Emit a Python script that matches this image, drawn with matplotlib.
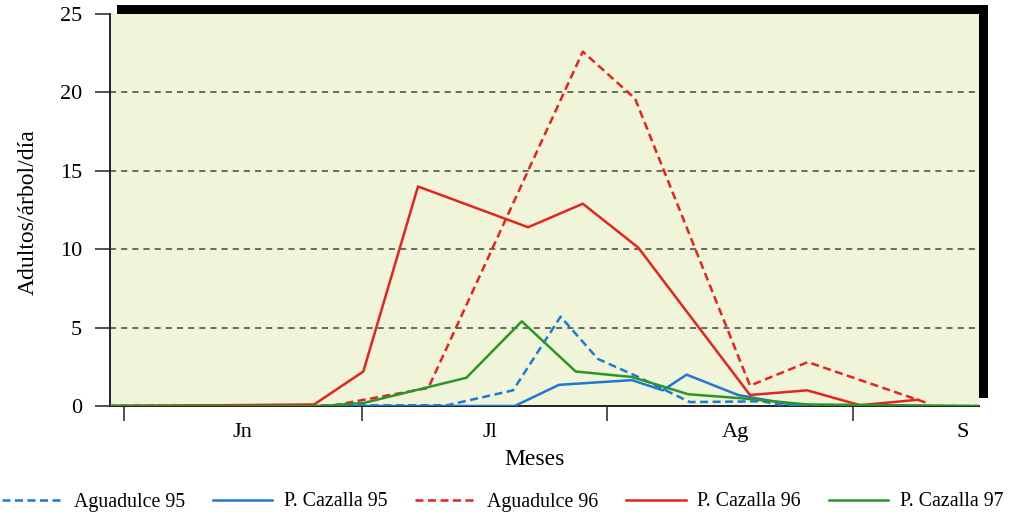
import matplotlib
matplotlib.use("Agg")
import matplotlib.pyplot as plt
from matplotlib.patches import Rectangle
from matplotlib.lines import Line2D

plt.rcParams['font.family'] = ['Liberation Serif', 'DejaVu Serif']

# days counted from 1 June
month_starts = [0, 30, 61, 92]
month_pos = [15, 46.2, 77.1, 105.9]
month_names = ['Jn', 'Jl', 'Ag', 'S']

days_ag95 = [-2, 40.8, 49.1, 55.1, 59.8, 64.7, 71.4, 80.6, 83.4, 108]
ag95 = [0, 0.05, 1.0, 5.7, 3.0, 1.9, 0.25, 0.3, 0, 0]

days_pc95 = [-2, 49.3, 54.9, 64.1, 68.0, 71.0, 77.5, 85.3]
pc95 = [0, 0, 1.35, 1.65, 1.0, 2.0, 0.7, 0]

days_ag96 = [-2, 26, 38.4, 57.9, 64.5, 79, 86.3, 101.3]
ag96 = [0, 0, 1.15, 22.6, 19.6, 1.3, 2.8, 0.2]

days_pc96 = [-2, 13, 24, 30.2, 37.1, 51, 57.9, 64.9, 79, 86.2, 92.9, 100.2]
pc96 = [0, 0.05, 0.1, 2.2, 14.0, 11.4, 12.9, 10.1, 0.7, 1.0, 0.05, 0.4]

days_pc97 = [-2, 25, 30.3, 43.2, 50.2, 57, 64.1, 71.2, 77.7, 86.2, 108]
pc97 = [0, 0, 0.2, 1.8, 5.4, 2.2, 1.85, 0.75, 0.5, 0.1, 0]

blue = '#1f78d2'
red = '#e52420'
green = '#2a962a'

fig = plt.figure(figsize=(10.13, 5.19), dpi=100)
W, H = 1013, 519
ax = fig.add_axes([110 / W, 1 - 406 / H, (979 - 110) / W, (406 - 14) / H])

# black drop shadow behind the plot area
shadow = Rectangle((117 / W, 1 - 398 / H), (988 - 117) / W, (398 - 5) / H,
                   transform=fig.transFigure, facecolor='black', edgecolor='none', zorder=-1)
fig.patches.append(shadow)

ax.set_facecolor('#f0f4d9')
ax.set_xlim(-1.77, 107.9)
ax.set_ylim(0, 25)

for yv in [5, 10, 15, 20]:
    ax.axhline(yv, color='#444444', lw=1.1, ls=(0, (4, 3.3)), zorder=1)

dash = (0, (3.2, 1.8))
lw = 1.8
ax.plot(days_ag95, ag95, color=blue, lw=lw, ls=dash, zorder=3)
ax.plot(days_pc95, pc95, color=blue, lw=lw, zorder=3)
ax.plot(days_ag96, ag96, color=red, lw=lw, ls=dash, zorder=3)
ax.plot(days_pc96, pc96, color=red, lw=lw, zorder=3)
ax.plot(days_pc97, pc97, color=green, lw=lw, zorder=3)

for s in ['top', 'right']:
    ax.spines[s].set_visible(False)
for s in ['left', 'bottom']:
    ax.spines[s].set_color('#222222')
    ax.spines[s].set_linewidth(1.4)

ax.set_yticks([0, 5, 10, 15, 20, 25])
ax.tick_params(axis='y', length=11, width=1.1, pad=9, labelsize=16, color='#222222')
ax.set_xticks(month_starts)
ax.set_xticklabels([])
ax.set_xticks(month_pos, minor=True)
ax.set_xticklabels(month_names, minor=True)
ax.tick_params(axis='x', which='major', length=11, width=1.1, color='#222222')
ax.tick_params(axis='x', which='minor', length=0, pad=12, labelsize=16)

ax.set_xlabel('Meses', fontsize=17)
ax.xaxis.set_label_coords((535 - 110) / (979 - 110), -43 / (406 - 14))
ax.set_ylabel('Adultos/árbol/día', fontsize=17)
ax.yaxis.set_label_coords(-(110 - 39) / (979 - 110), 0.5 - (212 - 210) / (406 - 14))

handles = [
    Line2D([], [], color=blue, lw=lw, ls=dash),
    Line2D([], [], color=blue, lw=lw),
    Line2D([], [], color=red, lw=lw, ls=dash),
    Line2D([], [], color=red, lw=lw),
    Line2D([], [], color=green, lw=lw),
]
labels = ['Aguadulce 95', 'P. Cazalla 95', 'Aguadulce 96', 'P. Cazalla 96', 'P. Cazalla 97']
fig.legend(handles, labels, loc='center', bbox_to_anchor=(503 / W, 1 - 502 / H), ncol=5,
           frameon=False, fontsize=14.3, handlelength=3.0, handletextpad=0.6,
           columnspacing=1.4, borderpad=0.2)

fig.savefig('out.png', dpi=100)
